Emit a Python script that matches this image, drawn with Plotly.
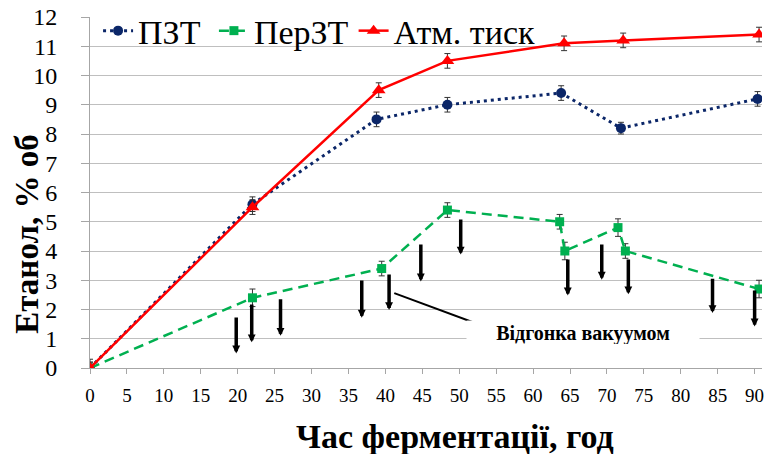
import plotly.graph_objects as go

# ---- data ----
pzt_x = [0, 22, 38.8, 48.4, 63.8, 71.9, 90.4]
pzt_y = [0, 5.6, 8.5, 9.0, 9.4, 8.2, 9.2]
pzt_err = [0.3, 0.25, 0.25, 0.25, 0.25, 0.2, 0.25]

perzt_x = [0, 22, 39.5, 48.4, 63.6, 64.3, 71.5, 72.5, 90.6]
perzt_y = [0, 2.4, 3.4, 5.4, 5.0, 4.0, 4.8, 4.0, 2.7]
perzt_err = [0.2, 0.3, 0.25, 0.25, 0.25, 0.3, 0.3, 0.25, 0.3]

atm_x = [0, 22, 39.1, 48.4, 64.2, 72.2, 90.6]
atm_y = [0, 5.5, 9.5, 10.5, 11.1, 11.2, 11.4]
atm_err = [0.2, 0.25, 0.25, 0.25, 0.25, 0.25, 0.25]

# vacuum distillation arrows (x, top value, bottom value)
arrow_x = [19.8, 21.9, 25.8, 36.8, 40.5, 44.8, 50.2, 64.7, 69.3, 72.9, 84.3, 90.0]
arrow_top = [1.78, 2.22, 2.4, 3.04, 3.25, 4.27, 5.13, 3.76, 4.27, 3.76, 3.1, 2.7]
arrow_bottom = [0.5, 0.88, 1.1, 1.72, 1.98, 2.96, 3.88, 2.48, 3.02, 2.52, 1.88, 1.42]

label_text = "Відгонка вакуумом"
label_pos = [66.7, 1.2]
label_line_x = [41.2, 53.6]
label_line_y = [2.56, 1.4]

x_ticks = list(range(0, 95, 5))
y_ticks = list(range(0, 13))

FONT = "Times New Roman"
NAVY = "#0b2668"
GREEN = "#00b050"
RED = "#ff0000"
ERR = "#333333"
PAD = "\u00a0"

fig = go.Figure()
fig.add_trace(go.Scatter(
    x=pzt_x, y=pzt_y, name="ПЗТ" + PAD, mode="lines+markers",
    line=dict(color=NAVY, width=3, dash="3px,4px"),
    marker=dict(symbol="circle", size=10, color=NAVY),
    error_y=dict(type="data", array=pzt_err, color=ERR, thickness=1, width=3),
))
fig.add_trace(go.Scatter(
    x=perzt_x, y=perzt_y, name="ПерЗТ", mode="lines+markers",
    line=dict(color=GREEN, width=2.5, dash="10px,6px"),
    marker=dict(symbol="square", size=9, color=GREEN),
    error_y=dict(type="data", array=perzt_err, color=ERR, thickness=1, width=3),
))
fig.add_trace(go.Scatter(
    x=atm_x, y=atm_y, name="Атм. тиск", mode="lines+markers",
    line=dict(color=RED, width=2.5),
    marker=dict(symbol="triangle-up", size=12, color=RED),
    error_y=dict(type="data", array=atm_err, color=ERR, thickness=1, width=3),
))

annotations = []
for ax_, top, bot in zip(arrow_x, arrow_top, arrow_bottom):
    annotations.append(dict(
        x=ax_, y=bot, ax=ax_, ay=top, xref="x", yref="y", axref="x", ayref="y",
        text="", showarrow=True, arrowhead=2, arrowsize=0.45, arrowwidth=3.5,
        arrowcolor="black",
    ))
annotations.append(dict(
    x=label_pos[0], y=label_pos[1], xref="x", yref="y", text="<b>" + label_text + "</b>",
    showarrow=False, font=dict(family=FONT, size=20, color="black"),
    bgcolor="white", width=230, height=22,
))
annotations.append(dict(
    x=0.543, y=-0.194, xref="paper", yref="paper", text="<b>Час ферментації, год</b>",
    showarrow=False, font=dict(family=FONT, size=34, color="black"),
    xanchor="center", yanchor="middle",
))
annotations.append(dict(
    x=-0.094, y=0.382, xref="paper", yref="paper", text="<b>Етанол, % об</b>",
    showarrow=False, font=dict(family=FONT, size=33, color="black"),
    textangle=-90, xanchor="center", yanchor="middle",
))

fig.add_shape(type="line", x0=label_line_x[0], y0=label_line_y[0],
              x1=label_line_x[1], y1=label_line_y[1], xref="x", yref="y",
              line=dict(color="black", width=2))

fig.update_layout(
    width=764, height=454,
    margin=dict(l=90, r=0, t=17, b=86),
    paper_bgcolor="white", plot_bgcolor="white",
    font=dict(family=FONT, color="black"),
    showlegend=True,
    legend=dict(orientation="h", x=0.012, y=0.96, xanchor="left", yanchor="middle",
                font=dict(family=FONT, size=34, color="black"),
                bgcolor="rgba(0,0,0,0)", itemwidth=30),
    annotations=annotations,
)
fig.update_xaxes(range=[0, 91], tickvals=x_ticks, ticktext=[str(v) for v in x_ticks],
                 showgrid=False, showline=True, linecolor="#a6a6a6", linewidth=1,
                 ticks="outside", ticklen=5, tickcolor="#a6a6a6", ticklabeloverflow="allow",
                 ticklabelstandoff=5,
                 tickfont=dict(family=FONT, size=19, color="black"), zeroline=False)
fig.update_yaxes(range=[0, 12], tickvals=y_ticks, ticktext=[str(v) for v in y_ticks],
                 showgrid=True, gridcolor="#bfbfbf", gridwidth=1,
                 showline=True, linecolor="#a6a6a6", linewidth=1,
                 ticks="outside", ticklen=8, tickcolor="#a6a6a6", ticklabelstandoff=19,
                 tickfont=dict(family=FONT, size=24, color="black"), zeroline=False)

fig.write_html("out.html")
